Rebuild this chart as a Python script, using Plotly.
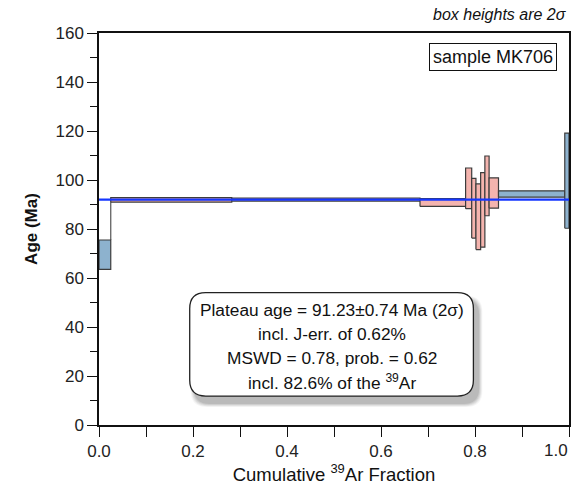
import plotly.graph_objects as go

# ---- data ----
cum_left  = [0.000, 0.025, 0.2825, 0.683, 0.780, 0.793, 0.802, 0.812, 0.821, 0.830, 0.850, 0.991]
cum_right = [0.025, 0.2825, 0.683, 0.780, 0.793, 0.802, 0.812, 0.821, 0.830, 0.850, 0.991, 1.000]
ages      = [69.5, 91.9, 92.0, 90.8, 96.6, 88.5, 85.0, 87.8, 97.6, 94.7, 94.3, 99.7]
errs_2s   = [6.0, 0.9, 0.6, 1.6, 8.3, 12.2, 13.4, 15.2, 12.2, 6.2, 1.3, 19.4]
in_plateau = [False, True, True, True, True, True, True, True, True, True, False, False]
plateau_age = 91.23
plateau_line_y = 92.0

x_ticks = [0.0, 0.2, 0.4, 0.6, 0.8, 1.0]
y_ticks = [0, 20, 40, 60, 80, 100, 120, 140, 160]

PINK = '#F4B4AE'
BLUE = '#8DB2CE'
EDGE = '#3c3c3c'
FONT = 'Arial, Liberation Sans, sans-serif'

fig = go.Figure()

# connectors between non-overlapping steps
for i in range(len(ages) - 1):
    lo1, hi1 = ages[i] - errs_2s[i], ages[i] + errs_2s[i]
    lo2, hi2 = ages[i + 1] - errs_2s[i + 1], ages[i + 1] + errs_2s[i + 1]
    if hi1 < lo2:
        fig.add_trace(go.Scatter(x=[cum_right[i], cum_right[i]], y=[hi1, lo2], mode='lines',
                                 line=dict(color='#555555', width=1.2), hoverinfo='skip', showlegend=False))
    elif lo1 > hi2:
        fig.add_trace(go.Scatter(x=[cum_right[i], cum_right[i]], y=[hi2, lo1], mode='lines',
                                 line=dict(color='#555555', width=1.2), hoverinfo='skip', showlegend=False))

# step boxes
for xl, xr, a, e, p in zip(cum_left, cum_right, ages, errs_2s, in_plateau):
    fig.add_trace(go.Scatter(
        x=[xl, xr, xr, xl, xl], y=[a - e, a - e, a + e, a + e, a - e],
        mode='lines', fill='toself', fillcolor=PINK if p else BLUE,
        line=dict(color=EDGE, width=1.2), hoverinfo='skip', showlegend=False))

# plateau line
fig.add_trace(go.Scatter(x=[0, 1], y=[plateau_line_y, plateau_line_y], mode='lines',
                         line=dict(color='#1536ff', width=2.2), hoverinfo='skip', showlegend=False))

# rounded box for plateau text
def rrect(x0, x1, y0, y1, rx, ry):
    return (f'M {x0+rx},{y0} L {x1-rx},{y0} Q {x1},{y0} {x1},{y0+ry} '
            f'L {x1},{y1-ry} Q {x1},{y1} {x1-rx},{y1} L {x0+rx},{y1} '
            f'Q {x0},{y1} {x0},{y1-ry} L {x0},{y0+ry} Q {x0},{y0} {x0+rx},{y0} Z')

bx0, bx1, by0, by1 = 0.193, 0.7966, 11.8, 54.0
pxx, pxy = 472.0, 392.0 / 160.0
rx, ry = 16 / pxx, 16 / pxy
for k, op in [(10, 0.04), (8, 0.05), (6, 0.06), (4, 0.07), (2, 0.08)]:
    dx, dy = 5 / pxx, 7 / pxy
    g = k / pxx
    gy = k / pxy
    fig.add_shape(type='path', xref='x', yref='y',
                  path=rrect(bx0 + dx - g * 0.4, bx1 + dx + g * 0.4, by0 - dy - gy * 0.4, by1 - dy + gy * 0.4, rx, ry),
                  fillcolor=f'rgba(0,0,0,{op})', line=dict(width=0), layer='above')
fig.add_shape(type='path', xref='x', yref='y', path=rrect(bx0, bx1, by0, by1, rx, ry),
              fillcolor='white', line=dict(color='#222222', width=1.3), layer='above')

SUP39 = '<sup>39</sup>'
lines = ['Plateau age = 91.23\u00b10.74 Ma (2\u03c3)',
         'incl. J-err. of 0.62%',
         'MSWD = 0.78, prob. = 0.62',
         'incl. 82.6% of the ' + SUP39 + 'Ar']
ly = [46.9, 37.1, 27.3, 17.6]
for t, yv in zip(lines, ly):
    fig.add_annotation(x=(bx0 + bx1) / 2, y=yv, xref='x', yref='y', text=t, showarrow=False,
                       font=dict(family=FONT, size=17.3, color='#111111'))

# sample label
fig.add_annotation(x=0.8385, y=150.3, xref='x', yref='y', text='sample MK706', showarrow=False,
                   font=dict(family=FONT, size=18, color='#111111'),
                   bordercolor='#111111', borderwidth=1, borderpad=3, bgcolor='white')

fig.add_annotation(x=1.0, y=1.0, xref='paper', yref='paper', yshift=8, text='<i>box heights are 2\u03c3</i>',
                   showarrow=False, xanchor='right', yanchor='bottom',
                   font=dict(family=FONT, size=16, color='#111111'))

# last x tick label, pulled inside the page
fig.add_annotation(x=x_ticks[-1], y=0, xref='x', yref='paper', yshift=-14, xshift=1,
                   text=f'{x_ticks[-1]:.1f}', showarrow=False, xanchor='right', yanchor='top',
                   font=dict(family=FONT, size=17, color='#222222'))

axis_common = dict(showline=True, linecolor='#111111', linewidth=1.5, mirror=True,
                   ticks='outside', ticklen=10, tickcolor='#111111', tickwidth=1.2,
                   showgrid=False, zeroline=False,
                   tickfont=dict(family=FONT, size=17, color='#222222'))

fig.update_xaxes(range=[0, 1], tickvals=x_ticks[:-1],
                 ticktext=[f'{v:.1f}' for v in x_ticks[:-1]],
                 minor=dict(tickvals=[0.1, 0.3, 0.5, 0.7, 0.9, 1.0], ticks='outside', ticklen=10,
                            tickcolor='#111111', tickwidth=1.2),
                 title=dict(text='Cumulative ' + SUP39 + 'Ar Fraction', standoff=6,
                            font=dict(family=FONT, size=18.5, color='#111111')),
                 **axis_common)
fig.update_yaxes(range=[0, 160], tickvals=y_ticks,
                 minor=dict(tickvals=[10, 30, 50, 70, 90, 110, 130, 150], ticks='outside', ticklen=7,
                            tickcolor='#111111', tickwidth=1.2),
                 title=dict(text='<b>Age (Ma)</b>', standoff=14,
                            font=dict(family=FONT, size=17, color='#111111')),
                 **axis_common)

fig.update_layout(width=575, height=486, autosize=False,
                  margin=dict(l=99, r=4, t=33, b=61),
                  paper_bgcolor='white', plot_bgcolor='white', showlegend=False)

fig.write_html('out.html')
